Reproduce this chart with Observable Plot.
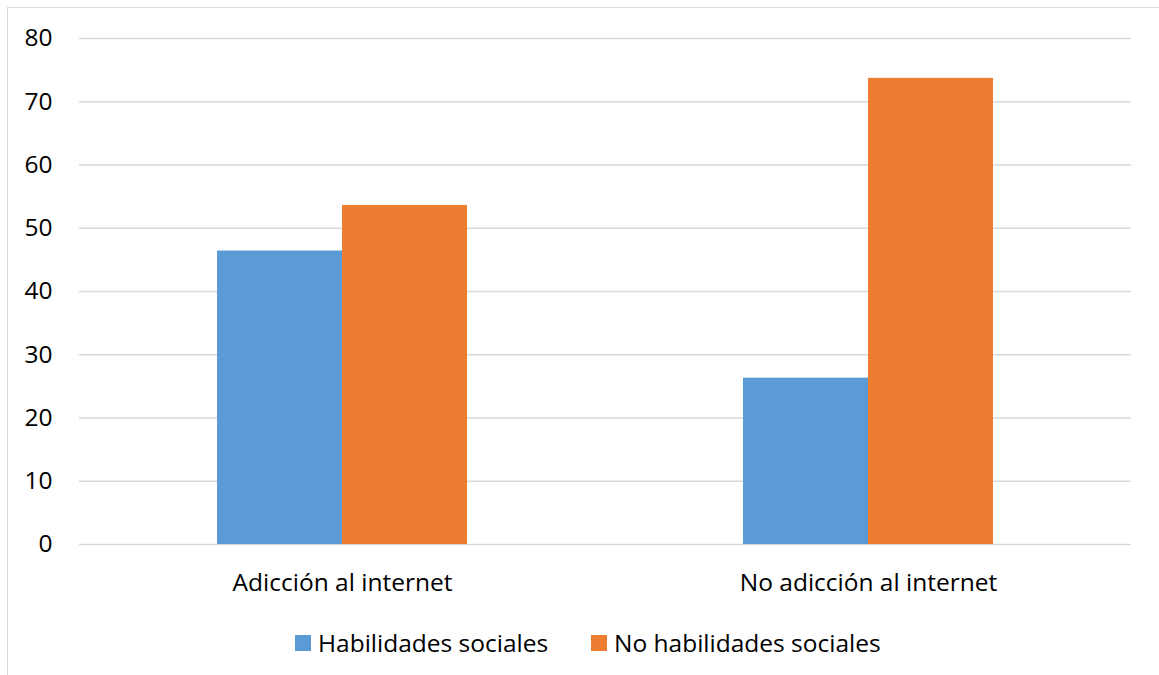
<!DOCTYPE html>
<html>
<head>
<meta charset="utf-8">
<script src="https://cdn.jsdelivr.net/npm/d3@7"></script>
<script src="https://cdn.jsdelivr.net/npm/@observablehq/plot@0.6"></script>
<style>
  html, body { margin: 0; padding: 0; background: #fff; overflow: hidden; width: 1159px; height: 675px; }
  #frame { position: absolute; left: 7px; top: 7px; width: 1300px; height: 800px; border-left: 1px solid #d9d9d9; border-top: 1px solid #d9d9d9; }
  #chart { position: absolute; left: 0; top: 0; }
  .legend { position: absolute; top: 626px; font-family: 'Open Sans', sans-serif; font-size: 24.5px; color: #000; display: flex; align-items: center; white-space: nowrap; }
  .legend .sw { width: 16px; height: 16px; margin-right: 7px; display: inline-block; }
</style>
</head>
<body>
<div id="frame"></div>
<div id="chart"></div>
<div id="legend"></div>
<script>
const categories = ["Adicción al internet", "No adicción al internet"];
const series = ["Habilidades sociales", "No habilidades sociales"];
const habilidades = [46.4, 26.3];
const noHabilidades = [53.6, 73.7];
const yTicks = [0, 10, 20, 30, 40, 50, 60, 70, 80];
const colors = ["#5B9BD5", "#ED7D31"];

const data = [];
categories.forEach((c, i) => {
  data.push({category: c, series: series[0], value: habilidades[i]});
  data.push({category: c, series: series[1], value: noHabilidades[i]});
});

const chart = Plot.plot({
  width: 1159,
  height: 610,
  marginLeft: 79,
  marginRight: 28,
  marginTop: 38,
  marginBottom: 66,
  style: {fontFamily: "'Open Sans', sans-serif", fontSize: "24.5px", color: "#000", background: "transparent", overflow: "visible"},
  fx: {domain: categories, padding: 0, label: null, tickSize: 0, tickPadding: 29, axis: "bottom"},
  x: {domain: series, paddingInner: 0, paddingOuter: 1.1, axis: null},
  y: {domain: [0, 80], ticks: yTicks, label: null, tickSize: 0, tickPadding: 27},
  color: {domain: series, range: colors},
  marks: [
    Plot.gridY(yTicks, {stroke: "#d9d9d9", strokeOpacity: 1, strokeWidth: 1.5}),
    Plot.barY(data, {fx: "category", x: "series", y: "value", fill: "series"})
  ]
});
document.getElementById("chart").appendChild(chart);

const legendLefts = [295, 591];
const legend = document.getElementById("legend");
series.forEach((s, i) => {
  const item = document.createElement("div");
  item.className = "legend";
  item.style.left = legendLefts[i] + "px";
  const sw = document.createElement("span");
  sw.className = "sw";
  sw.style.background = colors[i];
  const label = document.createElement("span");
  label.textContent = s;
  item.appendChild(sw);
  item.appendChild(label);
  legend.appendChild(item);
});
</script>
</body>
</html>
